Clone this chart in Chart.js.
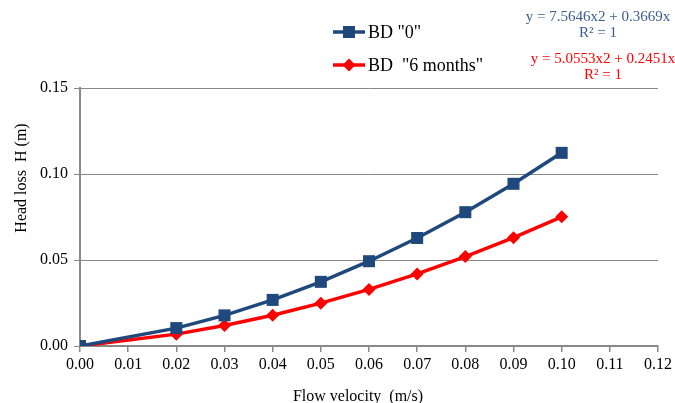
<!DOCTYPE html>
<html>
<head>
<meta charset="utf-8">
<script src="https://cdn.jsdelivr.net/npm/chart.js@4"></script>
<style>
  html, body { margin: 0; padding: 0; background: #fff; }
  #wrap { width: 675px; height: 403px; }
</style>
</head>
<body>
<div id="wrap"><canvas id="chart" width="675" height="403"></canvas></div>
<script>
// flow velocity (m/s)
const velocity = [0, 0.02, 0.03, 0.04, 0.05, 0.06, 0.07, 0.08, 0.09, 0.10];
// head loss (m)
const bd0 = [0, 0.0104, 0.0178, 0.0268, 0.0373, 0.0493, 0.0628, 0.0778, 0.0943, 0.1123];
const bd6 = [0, 0.0069, 0.0119, 0.0179, 0.0249, 0.0329, 0.0419, 0.0520, 0.0630, 0.0751];
const seriesNames = ['BD "0"', 'BD  "6 months"'];
const trendLabels = [
  ["y = 7.5646x2 + 0.3669x", "R\u00B2 = 1"],
  ["y = 5.0553x2 + 0.2451x", "R\u00B2 = 1"],
];
const xTitle = "Flow velocity  (m/s)";
const yTitle = "Head loss  H (m)";

const BLUE = "#1F497D";
const RED = "#FF0000";
const FONT = "'Liberation Serif', 'Times New Roman', serif";

const pts = (ys) => velocity.map((x, i) => ({ x, y: ys[i] }));

// legend, trendline labels and axis titles (placed like the original)
const extraText = {
  id: "extraText",
  afterDraw(chart) {
    const ctx = chart.ctx;
    ctx.save();
    const rows = [
      { y: 32, color: BLUE, style: "rect", name: seriesNames[0] },
      { y: 65, color: RED, style: "diamond", name: seriesNames[1] },
    ];
    rows.forEach((r) => {
      ctx.strokeStyle = r.color;
      ctx.fillStyle = r.color;
      ctx.lineWidth = 3.5;
      ctx.beginPath();
      ctx.moveTo(333, r.y);
      ctx.lineTo(365, r.y);
      ctx.stroke();
      ctx.beginPath();
      if (r.style === "rect") {
        ctx.rect(343, r.y - 6, 12, 12);
      } else {
        ctx.moveTo(349, r.y - 6.5);
        ctx.lineTo(355.5, r.y);
        ctx.lineTo(349, r.y + 6.5);
        ctx.lineTo(342.5, r.y);
        ctx.closePath();
      }
      ctx.fill();
      ctx.fillStyle = "#000";
      ctx.font = "18px " + FONT;
      ctx.textBaseline = "middle";
      ctx.textAlign = "left";
      ctx.fillText(r.name, 368, r.y + 1);
    });

    ctx.font = "15px " + FONT;
    ctx.textAlign = "center";
    ctx.textBaseline = "middle";
    ctx.fillStyle = "#3B5C8F";
    ctx.fillText(trendLabels[0][0], 598, 17);
    ctx.fillText(trendLabels[0][1], 598, 33);
    ctx.fillStyle = RED;
    ctx.fillText(trendLabels[1][0], 603, 59);
    ctx.fillText(trendLabels[1][1], 603, 75);

    // axis titles
    ctx.fillStyle = "#000";
    ctx.font = "16px " + FONT;
    ctx.textAlign = "center";
    ctx.textBaseline = "alphabetic";
    ctx.fillText(xTitle, 358, 401);
    ctx.translate(26, 178);
    ctx.rotate(-Math.PI / 2);
    ctx.fillText(yTitle, 0, 0);
    ctx.restore();
  },
};

new Chart(document.getElementById("chart"), {
  type: "line",
  data: {
    datasets: [
      {
        label: seriesNames[0],
        data: pts(bd0),
        borderColor: BLUE,
        backgroundColor: BLUE,
        borderWidth: 3.5,
        pointStyle: "rect",
        pointRadius: 8.5,
        pointBorderWidth: 0,
      },
      {
        label: seriesNames[1],
        data: pts(bd6),
        borderColor: RED,
        backgroundColor: RED,
        borderWidth: 3.5,
        pointStyle: "rectRot",
        pointRadius: 6.5,
        pointBorderWidth: 0,
      },
    ],
  },
  options: {
    responsive: false,
    animation: false,
    layout: { padding: { top: 88, right: 14, left: 0, bottom: 0 } },
    plugins: {
      legend: { display: false },
      tooltip: { enabled: false },
    },
    scales: {
      x: {
        type: "linear",
        min: 0,
        max: 0.12,
        afterFit: (s) => { s.height = 57; },
        ticks: {
          stepSize: 0.01,
          color: "#000",
          font: { family: FONT, size: 16 },
          padding: 3,
          maxRotation: 0,
          callback: (v) => v.toFixed(2),
        },
        grid: { drawOnChartArea: false, drawTicks: true, tickLength: 6, color: "#888", lineWidth: 1.5 },
        border: { color: "#888", width: 2 },
        title: { display: false },
      },
      y: {
        min: 0,
        max: 0.15,
        afterFit: (s) => { s.width = 80; },
        ticks: {
          stepSize: 0.05,
          color: "#000",
          font: { family: FONT, size: 16 },
          padding: 6,
          callback: (v) => v.toFixed(2),
        },
        grid: { color: "#888", lineWidth: 1, tickLength: 6 },
        border: { color: "#888", width: 2 },
        title: { display: false },
      },
    },
  },
  plugins: [extraText],
});
</script>
</body>
</html>
